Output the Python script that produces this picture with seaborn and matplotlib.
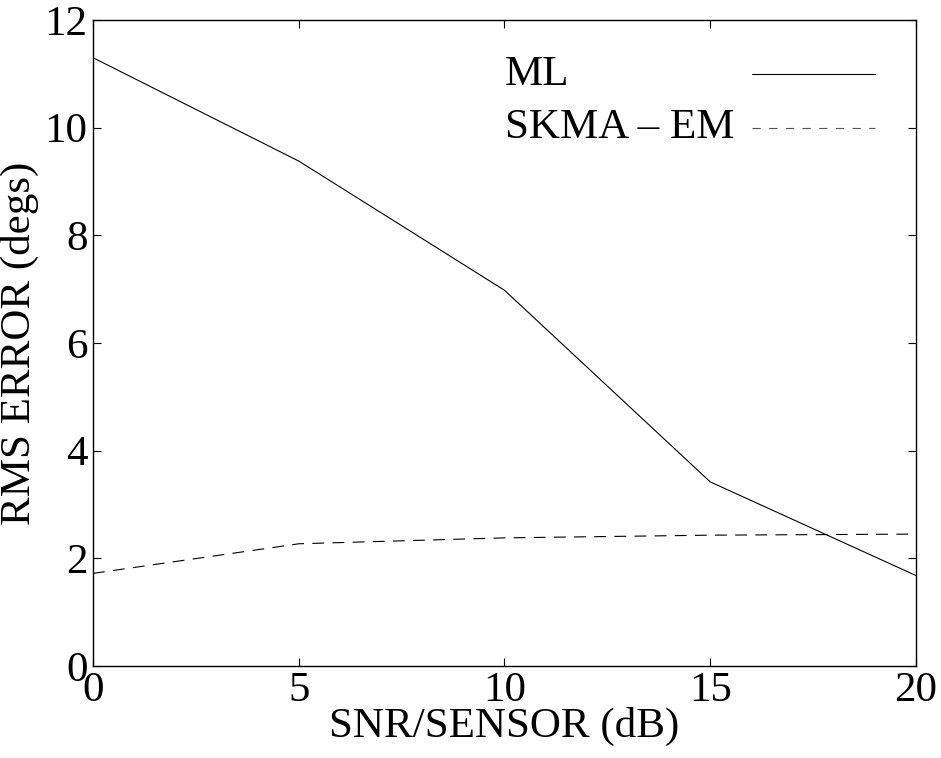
import matplotlib
matplotlib.use("Agg")
import matplotlib.pyplot as plt
import seaborn as sns
import pandas as pd

snr = [0, 5, 10, 15, 20]
ml = [11.3, 9.38, 6.98, 3.42, 1.68]
skma_em = [1.72, 2.27, 2.38, 2.43, 2.45]
series_names = ["ML", "SKMA \u2013 EM"]
xticks = [0, 5, 10, 15, 20]
yticks = [0, 2, 4, 6, 8, 10, 12]

sns.set_theme(style="ticks")
plt.rcParams['font.family'] = ['Liberation Serif', 'DejaVu Serif']
plt.rcParams['lines.scale_dashes'] = False
plt.rcParams['text.color'] = 'black'
plt.rcParams['axes.labelcolor'] = 'black'
plt.rcParams['xtick.color'] = 'black'
plt.rcParams['ytick.color'] = 'black'

df = pd.DataFrame({
    "snr": snr * 2,
    "err": ml + skma_em,
    "method": [series_names[0]] * len(snr) + [series_names[1]] * len(snr),
})

fig = plt.figure(figsize=(9.41, 7.58), dpi=100)
ax = fig.add_axes([0.0988, 0.1214, 0.8746, 0.8522])

sns.lineplot(data=df, x="snr", y="err", hue="method", style="method",
             palette=["black", "black"], dashes={series_names[0]: "", series_names[1]: (8.5, 6)},
             linewidth=0.8, legend=False, ax=ax)

ax.set_xlim(0, 20)
ax.set_ylim(0, 12)
ax.set_xticks(xticks)
ax.set_yticks(yticks)
ax.tick_params(direction="in", length=6, width=0.8, labelsize=31, top=True, right=True, pad=4,
               colors="black", labelcolor="black")
for s in ax.spines.values():
    s.set_visible(True)
    s.set_linewidth(1.0)
    s.set_color("black")

ax.set_xlabel("SNR/SENSOR (dB)", fontsize=31, labelpad=-2, color="black")
ax.set_ylabel("RMS ERROR (degs)", fontsize=31, labelpad=4, color="black")

# legend (text left, sample lines right)
ax.text(0.5006, 0.916, series_names[0], transform=ax.transAxes, fontsize=31, va="center", ha="left", color="black")
ax.text(0.5006, 0.833, series_names[1], transform=ax.transAxes, fontsize=31, va="center", ha="left", color="black")
ax.plot([0.801, 0.950], [0.916, 0.916], transform=ax.transAxes, color="black", lw=0.8)
ax.plot([0.801, 0.950], [0.833, 0.833], transform=ax.transAxes, color="#555555", lw=0.8, dashes=(6, 6))

fig.savefig("out.png", dpi=100)
